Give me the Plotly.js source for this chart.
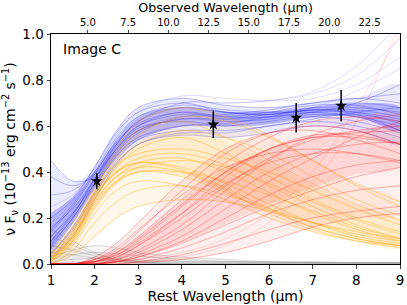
<!DOCTYPE html>
<html><head><meta charset="utf-8">
<script src="https://cdn.plot.ly/plotly-3.0.1.min.js"></script>
<style>html,body{margin:0;padding:0;background:#fff}#chart{width:407px;height:305px}</style>
</head><body><div id="chart"></div>
<script>
// Rest-wavelength grid on which the model curves were read (µm)
const restWave = [1, 1.5, 2, 2.5, 3, 4, 5, 6, 7, 8, 9];
const redshiftFactor = 2.71; // observed = rest * (1+z)

// Observed photometry (rest wavelength, νFν, error)
const obsWave = [2.05, 4.72, 6.62, 7.65];
const obsFlux = [0.36, 0.607, 0.636, 0.688];
const obsErr  = [0.035, 0.06, 0.064, 0.068];

// Model curves (νFν, 1e-13 erg cm^-2 s^-1)
const grayCurves = [
  [0.15,0.10,0.05,0.02,0.01,0,0,0,0,0,0],
  [0.12,0.08,0.045,0.02,0.01,0,0,0,0,0,0],
  [0.08,0.06,0.035,0.015,0.005,0,0,0,0,0,0],
  [0.05,0.04,0.025,0.01,0.004,0,0,0,0,0,0],
  [0.03,0.06,0.08,0.07,0.05,0.03,0.02,0.01,0.01,0.005,0.005],
  [0.02,0.04,0.05,0.045,0.035,0.02,0.012,0.008,0.006,0.005,0.004],
  [0.01,0.02,0.025,0.02,0.016,0.012,0.01,0.008,0.007,0.006,0.005],
  [0.006,0.008,0.01,0.01,0.01,0.009,0.008,0.008,0.007,0.007,0.007],
  [0.003,0.004,0.005,0.005,0.005,0.005,0.005,0.005,0.005,0.005,0.005]
];
const blueCurves = [
  [0.10,0.22,0.36,0.50,0.58,0.63,0.62,0.63,0.65,0.64,0.60],
  [0.06,0.18,0.33,0.47,0.55,0.60,0.60,0.62,0.64,0.62,0.57],
  [0.15,0.26,0.40,0.55,0.64,0.68,0.66,0.66,0.68,0.68,0.66],
  [0.20,0.28,0.42,0.58,0.68,0.72,0.69,0.68,0.70,0.72,0.74],
  [0.05,0.15,0.30,0.44,0.52,0.57,0.57,0.60,0.62,0.60,0.55],
  [0.45,0.36,0.38,0.50,0.60,0.66,0.64,0.64,0.66,0.70,0.78],
  [0.12,0.22,0.35,0.48,0.57,0.64,0.65,0.67,0.70,0.72,0.70],
  [0.08,0.20,0.34,0.46,0.54,0.58,0.58,0.60,0.63,0.66,0.68],
  [0.30,0.32,0.40,0.54,0.64,0.69,0.67,0.66,0.66,0.64,0.58],
  [0.03,0.12,0.28,0.43,0.52,0.56,0.55,0.57,0.60,0.58,0.52],
  [0.10,0.21,0.37,0.50,0.59,0.62,0.60,0.61,0.64,0.65,0.62],
  [0.38,0.34,0.39,0.52,0.62,0.68,0.66,0.65,0.67,0.67,0.64],
  [0.14,0.25,0.39,0.53,0.61,0.66,0.63,0.64,0.66,0.66,0.63],
  [0.22,0.29,0.42,0.57,0.66,0.70,0.66,0.65,0.68,0.70,0.68],
  [0.04,0.16,0.31,0.45,0.54,0.60,0.61,0.64,0.67,0.65,0.58],
  [0.09,0.20,0.35,0.49,0.58,0.63,0.63,0.65,0.67,0.66,0.61],
  [0.16,0.24,0.37,0.51,0.60,0.65,0.64,0.66,0.69,0.69,0.65]
];
// faint blue curves that climb steeply at the long-wavelength end
const blueRising = [
  [0.25,0.30,0.40,0.52,0.62,0.70,0.70,0.71,0.74,0.82,0.98],
  [0.18,0.27,0.41,0.56,0.66,0.73,0.72,0.71,0.72,0.78,0.90],
  [0.07,0.19,0.34,0.48,0.58,0.64,0.62,0.63,0.68,0.75,0.85],
  [0.12,0.23,0.37,0.52,0.62,0.70,0.70,0.71,0.75,0.86,1.05]
];
const orangeCurves = [
  [0.02,0.12,0.28,0.42,0.50,0.55,0.48,0.38,0.28,0.20,0.14],
  [0.04,0.16,0.32,0.48,0.58,0.62,0.55,0.45,0.35,0.26,0.19],
  [0.01,0.10,0.27,0.38,0.42,0.40,0.32,0.22,0.15,0.10,0.07],
  [0.03,0.14,0.30,0.40,0.44,0.42,0.35,0.26,0.18,0.12,0.09],
  [0.05,0.18,0.34,0.50,0.62,0.68,0.64,0.56,0.45,0.35,0.27],
  [0.02,0.11,0.26,0.36,0.40,0.40,0.36,0.30,0.23,0.16,0.11],
  [0.01,0.08,0.22,0.32,0.36,0.34,0.28,0.20,0.14,0.10,0.08],
  [0.03,0.13,0.30,0.44,0.52,0.58,0.55,0.48,0.38,0.28,0.21],
  [0.02,0.10,0.25,0.36,0.42,0.45,0.42,0.35,0.27,0.19,0.13],
  [0.00,0.06,0.18,0.27,0.32,0.34,0.30,0.24,0.18,0.13,0.10],
  [0.04,0.15,0.32,0.46,0.56,0.64,0.62,0.55,0.45,0.34,0.25],
  [0.02,0.12,0.29,0.40,0.46,0.48,0.43,0.34,0.25,0.17,0.11],
  [0.01,0.09,0.24,0.35,0.40,0.38,0.31,0.23,0.16,0.11,0.08],
  [0.00,0.04,0.12,0.20,0.25,0.28,0.27,0.23,0.18,0.14,0.11],
  [0.03,0.14,0.31,0.43,0.48,0.50,0.46,0.40,0.32,0.24,0.17],
  [0.02,0.11,0.27,0.38,0.44,0.46,0.40,0.31,0.22,0.15,0.10],
  [0.02,0.12,0.29,0.40,0.44,0.41,0.33,0.24,0.16,0.11,0.08]
];
const redCurves = [
  [0,0,0.01,0.04,0.10,0.25,0.40,0.50,0.55,0.55,0.52],
  [0,0,0.02,0.06,0.14,0.32,0.48,0.57,0.60,0.58,0.52],
  [0,0,0.00,0.02,0.05,0.15,0.28,0.40,0.48,0.52,0.53],
  [0,0,0.01,0.03,0.08,0.20,0.34,0.46,0.54,0.58,0.60],
  [0,0,0.03,0.09,0.18,0.36,0.50,0.57,0.58,0.54,0.48],
  [0,0,0.00,0.01,0.03,0.10,0.20,0.30,0.38,0.43,0.45],
  [0,0,0.01,0.05,0.12,0.28,0.44,0.55,0.62,0.64,0.62],
  [0,0,0.00,0.01,0.02,0.07,0.14,0.22,0.28,0.32,0.34],
  [0,0,0.02,0.07,0.15,0.30,0.42,0.48,0.50,0.48,0.44],
  [0,0,0.00,0.02,0.06,0.17,0.32,0.45,0.56,0.62,0.65],
  [0,0,0.01,0.03,0.08,0.22,0.38,0.50,0.56,0.56,0.52],
  [0,0,0.00,0.01,0.03,0.09,0.17,0.25,0.32,0.38,0.42],
  [0,0,0.00,0.00,0.01,0.04,0.09,0.15,0.20,0.23,0.25],
  [0,0,0.02,0.05,0.11,0.26,0.40,0.50,0.55,0.57,0.58],
  [0,0,0.00,0.01,0.04,0.12,0.24,0.36,0.46,0.55,0.62],
  [0,0,0.01,0.04,0.09,0.22,0.35,0.44,0.48,0.48,0.45],
  [0,0,0.00,0.00,0.005,0.02,0.05,0.10,0.16,0.20,0.22]
];
// faint red curves that climb steeply to the top edge
const redRising = [
  [0,0,0.00,0.00,0.01,0.03,0.08,0.18,0.35,0.62,1.05],
  [0,0,0.00,0.01,0.02,0.05,0.11,0.22,0.40,0.68,1.00]
];

const groups = [
  {curves: grayCurves,   extra: [],         line: 'rgba(150,150,150,0.35)', faint: '',                    fill: 'rgba(200,200,200,0.15)', core: 'rgba(190,190,190,0.18)'},
  {curves: blueCurves,   extra: blueRising, line: 'rgba(0,0,255,0.25)',     faint: 'rgba(0,0,255,0.13)',  fill: 'rgba(90,90,255,0.12)',   core: 'rgba(30,30,255,0.26)'},
  {curves: orangeCurves, extra: [],         line: 'rgba(255,165,0,0.40)',   faint: '',                    fill: 'rgba(255,190,80,0.12)',  core: 'rgba(255,170,20,0.14)'},
  {curves: redCurves,    extra: redRising,  line: 'rgba(255,0,0,0.28)',     faint: 'rgba(255,0,0,0.12)',  fill: 'rgba(255,90,90,0.10)',   core: 'rgba(255,40,40,0.12)'}
];

function quant(arr, q) {
  const s = arr.slice().sort((a, b) => a - b);
  const p = (s.length - 1) * q, i = Math.floor(p), f = p - i;
  return i + 1 < s.length ? s[i] + f * (s[i + 1] - s[i]) : s[i];
}
function band(x, hi, lo, color) {
  return {
    x: x.concat(x.slice().reverse()), y: hi.concat(lo.slice().reverse()),
    type: 'scatter', mode: 'lines', fill: 'toself', fillcolor: color,
    line: {width: 0, shape: 'spline', smoothing: 1}, hoverinfo: 'skip', showlegend: false
  };
}
function curve(c, color) {
  return {x: restWave, y: c, type: 'scatter', mode: 'lines',
    line: {color: color, width: 1, shape: 'spline', smoothing: 1}, hoverinfo: 'skip', showlegend: false};
}

const traces = [];
groups.forEach(g => {
  const col = i => g.curves.map(c => c[i]);
  traces.push(band(restWave, restWave.map((_, i) => quant(col(i), 1)), restWave.map((_, i) => quant(col(i), 0)), g.fill));
  traces.push(band(restWave, restWave.map((_, i) => quant(col(i), 0.8)), restWave.map((_, i) => quant(col(i), 0.2)), g.core));
  g.extra.forEach(c => traces.push(curve(c, g.faint)));
  g.curves.forEach(c => traces.push(curve(c, g.line)));
});

traces.push({
  x: obsWave, y: obsFlux, type: 'scatter', mode: 'markers',
  marker: {symbol: 'star', size: 9, color: 'black'},
  error_y: {type: 'data', array: obsErr, visible: true, color: 'black', thickness: 1.5, width: 0},
  showlegend: false
});
// anchor trace for the observed-wavelength axis
traces.push({x: restWave.map(w => w * redshiftFactor), y: restWave.map(() => null), xaxis: 'x2', type: 'scatter', mode: 'lines', showlegend: false, hoverinfo: 'skip'});

const fontFam = 'DejaVu Sans, sans-serif';
const layout = {
  width: 407, height: 305,
  margin: {l: 51, r: 7, t: 34, b: 41},
  paper_bgcolor: 'white', plot_bgcolor: 'white',
  font: {family: fontFam, color: 'black'},
  showlegend: false,
  xaxis: {
    range: [1, 9], tickvals: [1,2,3,4,5,6,7,8,9], ticks: 'outside', ticklen: 3.5, tickwidth: 1,
    showline: true, linecolor: 'black', linewidth: 1, mirror: true, showgrid: false, zeroline: false,
    tickfont: {size: 13.5}, title: {text: 'Rest Wavelength (μm)', font: {size: 14}, standoff: 2}
  },
  xaxis2: {
    overlaying: 'x', side: 'top', anchor: 'y', range: [1 * redshiftFactor, 9 * redshiftFactor],
    tickvals: [5, 7.5, 10, 12.5, 15, 17.5, 20, 22.5], ticktext: ['5.0','7.5','10.0','12.5','15.0','17.5','20.0','22.5'],
    ticks: 'outside', ticklen: 3.5, tickwidth: 1, showgrid: false, zeroline: false, showline: false,
    tickfont: {size: 10}, title: {text: 'Observed Wavelength (μm)', font: {size: 12.7}, standoff: 2}
  },
  yaxis: {
    range: [0, 1], tickvals: [0, 0.2, 0.4, 0.6, 0.8, 1.0], ticktext: ['0.0','0.2','0.4','0.6','0.8','1.0'],
    ticks: 'outside', ticklen: 3.5, tickwidth: 1, showline: true, linecolor: 'black', linewidth: 1, mirror: true,
    showgrid: false, zeroline: false, tickfont: {size: 13.5},
    title: {text: 'ν F<sub>ν</sub> (10<sup>−13</sup> erg cm<sup>−2</sup> s<sup>−1</sup>)', font: {size: 14}, standoff: 4}
  },
  annotations: [{
    text: 'Image C', xref: 'paper', yref: 'paper', x: 0.028, y: 0.935, xanchor: 'left', yanchor: 'middle',
    showarrow: false, font: {size: 14, family: fontFam, color: 'black'}
  }]
};
Plotly.newPlot('chart', traces, layout, {displayModeBar: false, staticPlot: true});
</script></body></html>
